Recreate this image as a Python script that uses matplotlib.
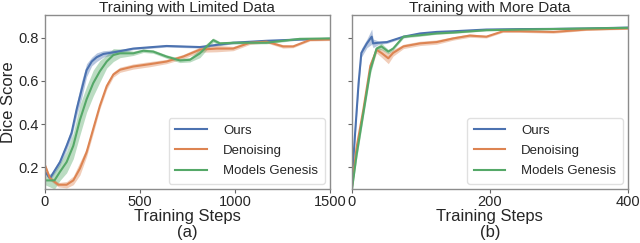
import numpy as np
import matplotlib.pyplot as plt

plt.rcParams['font.family'] = ['Liberation Sans', 'DejaVu Sans']

# ---- left panel: limited data ----
a_ours_x = [0, 26, 79, 114, 140, 167, 193, 219, 246, 272, 307, 377, 465, 640, 816, 991, 1167, 1342, 1500]
a_ours_y = [0.18, 0.15, 0.225, 0.30, 0.36, 0.47, 0.56, 0.65, 0.69, 0.71, 0.725, 0.735, 0.75, 0.762, 0.757, 0.777, 0.786, 0.792, 0.795]
a_ours_s = [0.01, 0.01, 0.015, 0.02, 0.02, 0.03, 0.04, 0.03, 0.02, 0.02, 0.015, 0.01, 0.005, 0.005, 0.005, 0.005, 0.004, 0.004, 0.004]

a_den_x = [0, 26, 70, 114, 149, 184, 219, 254, 289, 325, 360, 395, 465, 553, 640, 728, 816, 904, 991, 1079, 1167, 1254, 1307, 1395, 1500]
a_den_y = [0.21, 0.15, 0.12, 0.12, 0.14, 0.195, 0.27, 0.378, 0.485, 0.576, 0.63, 0.652, 0.667, 0.678, 0.69, 0.713, 0.745, 0.75, 0.75, 0.777, 0.782, 0.76, 0.76, 0.79, 0.792]
a_den_s = [0.01, 0.01, 0.01, 0.015, 0.02, 0.03, 0.02, 0.02, 0.015, 0.015, 0.012, 0.012, 0.012, 0.012, 0.01, 0.01, 0.012, 0.015, 0.01, 0.008, 0.006, 0.008, 0.006, 0.005, 0.005]

a_mg_x = [0, 50, 79, 114, 149, 184, 219, 254, 289, 325, 360, 395, 465, 518, 570, 640, 711, 763, 816, 886, 921, 991, 1167, 1254, 1342, 1500]
a_mg_y = [0.14, 0.14, 0.18, 0.225, 0.30, 0.42, 0.515, 0.59, 0.645, 0.69, 0.72, 0.728, 0.728, 0.74, 0.736, 0.713, 0.695, 0.698, 0.728, 0.789, 0.774, 0.777, 0.777, 0.786, 0.795, 0.797]
a_mg_s = [0.02, 0.04, 0.04, 0.05, 0.06, 0.07, 0.06, 0.06, 0.05, 0.03, 0.03, 0.02, 0.01, 0.008, 0.008, 0.008, 0.01, 0.01, 0.02, 0.01, 0.008, 0.006, 0.005, 0.005, 0.004, 0.004]

# ---- right panel: more data ----
b_ours_x = [0, 5, 10, 14, 22, 29, 31, 39, 51, 75, 99, 123, 147, 195, 243, 292, 340, 400]
b_ours_y = [0.126, 0.36, 0.59, 0.73, 0.774, 0.805, 0.774, 0.777, 0.78, 0.805, 0.82, 0.827, 0.83, 0.838, 0.84, 0.841, 0.843, 0.847]
b_ours_s = [0.01, 0.02, 0.02, 0.02, 0.02, 0.035, 0.02, 0.008, 0.006, 0.005, 0.004, 0.004, 0.004, 0.003, 0.003, 0.003, 0.003, 0.003]

b_den_x = [0, 7, 17, 27, 36, 43, 53, 60, 75, 99, 123, 147, 171, 195, 219, 243, 292, 340, 400]
b_den_y = [0.10, 0.29, 0.47, 0.67, 0.744, 0.73, 0.705, 0.73, 0.76, 0.774, 0.78, 0.797, 0.81, 0.805, 0.83, 0.83, 0.827, 0.838, 0.843]
b_den_s = [0.01, 0.02, 0.02, 0.02, 0.015, 0.02, 0.025, 0.015, 0.01, 0.01, 0.01, 0.008, 0.008, 0.006, 0.005, 0.005, 0.006, 0.004, 0.004]

b_mg_x = [0, 7, 17, 27, 36, 43, 53, 60, 75, 99, 123, 147, 195, 243, 400]
b_mg_y = [0.088, 0.256, 0.454, 0.65, 0.75, 0.76, 0.736, 0.75, 0.805, 0.812, 0.82, 0.824, 0.835, 0.838, 0.846]
b_mg_s = [0.01, 0.02, 0.02, 0.02, 0.01, 0.015, 0.01, 0.008, 0.006, 0.005, 0.004, 0.004, 0.003, 0.003, 0.003]

labels = ["Ours", "Denoising", "Models Genesis"]
colors = ["#4C72B0", "#DD8452", "#55A868"]
txt = "0.15"


def panel(ax, series, title, xlim, xticks, sub):
    for (x, y, s), lab, c in zip(series, labels, colors):
        x = np.array(x); y = np.array(y); s = np.array(s)
        ax.fill_between(x, y - s, y + s, color=c, alpha=0.4, lw=0)
        ax.plot(x, y, color=c, lw=1.5, label=lab)
    ax.set_xlim(*xlim)
    ax.set_ylim(0.1, 0.905)
    ax.set_xticks(xticks)
    ax.set_yticks([0.2, 0.4, 0.6, 0.8])
    ax.set_title(title, fontsize=11, color=txt, pad=2)
    ax.set_xlabel("Training Steps\n" + sub, fontsize=12, color=txt, labelpad=0, linespacing=1.05)
    for sp in ax.spines.values():
        sp.set_color("0.55")
        sp.set_linewidth(1.0)
    ax.tick_params(colors="0.4", labelcolor=txt, labelsize=10.5, length=3, width=0.8, pad=1.5)
    leg = ax.legend(loc="lower right", fontsize=9.5, handlelength=2.4, borderpad=0.5,
                    labelspacing=0.6, handletextpad=1.2, borderaxespad=0.4)
    leg.get_frame().set_edgecolor("0.85")
    for t in leg.get_texts():
        t.set_color(txt)


fig = plt.figure(figsize=(6.4, 2.43), dpi=100)
ax1 = fig.add_axes([0.0703, 0.222, 0.445, 0.716])
ax2 = fig.add_axes([0.5495, 0.222, 0.4317, 0.716])

panel(ax1, [(a_ours_x, a_ours_y, a_ours_s), (a_den_x, a_den_y, a_den_s), (a_mg_x, a_mg_y, a_mg_s)],
      "Training with Limited Data", (0, 1500), [0, 500, 1000, 1500], "(a)")
panel(ax2, [(b_ours_x, b_ours_y, b_ours_s), (b_den_x, b_den_y, b_den_s), (b_mg_x, b_mg_y, b_mg_s)],
      "Training with More Data", (0, 400), [0, 200, 400], "(b)")
ax1.set_ylabel("Dice Score", fontsize=12, color=txt, labelpad=2)
ax2.set_yticklabels([])

fig.savefig("out.png", dpi=100)
